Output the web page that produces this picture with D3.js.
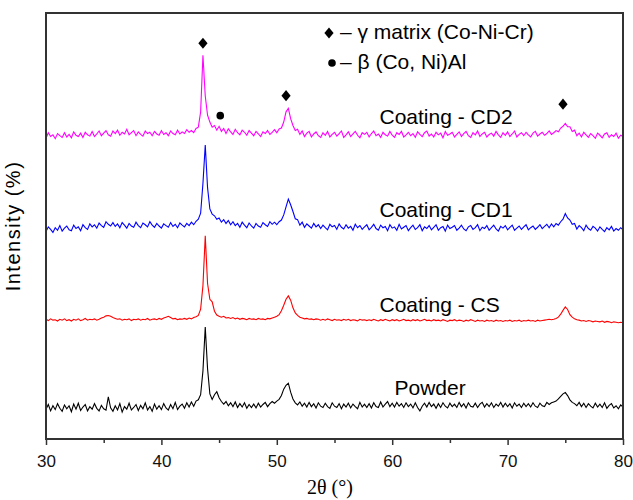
<!DOCTYPE html>
<html>
<head>
<meta charset="utf-8">
<script src="https://cdn.jsdelivr.net/npm/d3@7"></script>
<style>
  body { margin: 0; background: #fff; }
  text { font-family: "Liberation Sans", Arial, sans-serif; }
</style>
</head>
<body>
<div id="chart"></div>
<script>
// 2theta sampling grid of the scans (degrees, 0.2 step)
var twoTheta = d3.range(0, 251).map(function (i) { return +(30 + i * 0.2).toFixed(1); });
var xTicks = [30, 40, 50, 60, 70, 80];
var xMinorTicks = [35, 45, 55, 65, 75];

// intensities, already stacked (Intensity %, 0-100 scale)
var powder = [
  7.0, 8.1, 6.6, 7.8, 6.9, 8.3, 7.2, 6.5, 8.0, 7.1,
  7.8, 6.4, 8.2, 7.0, 8.4, 6.7, 7.5, 8.1, 6.6, 7.6,
  7.0, 8.3, 7.2, 6.6, 7.9, 7.1, 6.8, 9.9, 7.3, 6.5,
  7.8, 6.8, 8.3, 6.3, 7.6, 7.0, 8.4, 6.8, 7.4, 8.1,
  6.7, 7.9, 7.1, 8.5, 6.8, 7.6, 6.5, 8.2, 7.0, 7.8,
  6.9, 8.3, 7.3, 6.8, 8.1, 7.1, 8.6, 6.9, 7.7, 8.2,
  7.2, 8.5, 7.5, 8.7, 7.7, 8.9, 9.2, 10.4, 16.0, 26.3,
  16.5, 10.6, 9.3, 10.4, 11.1, 9.7, 8.8, 8.2, 8.8, 7.8,
  8.5, 7.6, 8.7, 7.4, 8.3, 7.5, 8.5, 7.2, 8.1, 7.4,
  8.2, 7.3, 8.4, 7.5, 8.1, 8.6, 7.6, 8.3, 8.8, 8.4,
  8.9, 9.3, 10.2, 11.7, 12.6, 13.1, 11.0, 9.4, 8.5, 8.0,
  8.7, 7.7, 8.4, 7.5, 8.6, 7.6, 8.3, 7.3, 8.5, 7.7,
  7.4, 8.4, 7.6, 7.2, 8.5, 7.7, 7.4, 8.3, 7.1, 8.2,
  7.5, 8.4, 7.3, 8.2, 7.6, 7.1, 8.6, 7.5, 8.2, 7.4,
  8.3, 7.3, 8.5, 7.6, 7.4, 8.7, 7.5, 8.2, 8.8, 7.6,
  8.4, 7.5, 8.6, 7.7, 8.3, 7.4, 8.5, 7.6, 8.2, 7.3,
  8.5, 7.4, 6.6, 7.7, 8.4, 7.5, 8.6, 7.6, 8.2, 7.2,
  8.3, 7.4, 8.5, 7.7, 7.3, 8.4, 7.6, 8.2, 7.4, 8.6,
  7.6, 8.3, 7.3, 8.5, 7.7, 7.5, 8.4, 7.4, 8.2, 8.6,
  7.5, 8.3, 7.6, 8.5, 7.4, 8.2, 7.7, 8.6, 7.5, 8.4,
  7.6, 8.3, 7.3, 8.5, 7.7, 8.2, 7.4, 8.4, 7.6, 8.3,
  7.5, 8.5, 7.7, 7.4, 8.4, 7.8, 7.6, 8.6, 8.1, 8.5,
  8.7, 8.9, 9.4, 10.0, 10.6, 10.9, 10.2, 9.2, 8.6, 8.3,
  7.8, 8.6, 7.6, 8.4, 7.4, 8.3, 7.7, 7.3, 8.4, 7.5,
  8.2, 7.4, 8.5, 7.2, 7.9, 8.3, 7.3, 7.8, 7.1, 8.0,
  7.5
];

var coatingCS = [
  28.1, 27.8, 28.2, 27.9, 28.0, 27.7, 28.1, 27.9, 28.2, 27.8,
  28.0, 27.7, 28.1, 27.9, 28.2, 27.8, 28.0, 28.3, 27.9, 28.1,
  28.0, 28.2, 27.9, 28.1, 28.4, 28.6, 28.9, 29.0, 28.8, 28.5,
  28.3, 28.1, 28.2, 27.9, 28.1, 28.0, 28.2, 27.8, 28.1, 28.0,
  28.2, 27.9, 28.1, 28.0, 28.3, 27.9, 28.1, 28.2, 28.0, 28.3,
  28.1, 28.4, 28.6, 28.8, 28.5, 28.2, 28.3, 28.0, 28.2, 28.1,
  28.3, 28.1, 28.4, 28.2, 28.5, 28.7, 29.0, 30.5, 36.0, 47.7,
  36.5, 32.8, 32.2, 30.0, 29.1, 28.8, 28.6, 28.8, 28.4, 28.5,
  28.3, 28.5, 28.2, 28.4, 28.1, 28.3, 28.2, 28.0, 28.3, 28.1,
  28.2, 28.0, 28.3, 28.1, 28.2, 28.0, 28.3, 28.2, 28.4, 28.6,
  28.8, 29.2, 30.1, 31.4, 32.8, 33.6, 32.6, 30.8, 29.6, 29.0,
  28.6, 28.4, 28.2, 28.3, 28.1, 28.2, 28.0, 28.2, 28.1, 27.9,
  28.1, 27.9, 28.2, 28.0, 27.8, 28.1, 27.9, 28.0, 27.8, 28.1,
  27.9, 28.1, 27.8, 28.0, 27.9, 27.7, 28.1, 27.9, 28.0, 27.8,
  28.0, 27.8, 28.1, 27.9, 27.7, 28.0, 27.8, 28.1, 27.9, 27.7,
  28.0, 27.8, 28.0, 27.7, 27.9, 28.1, 27.8, 27.9, 27.7, 28.0,
  27.8, 28.0, 27.7, 27.9, 28.1, 27.8, 27.9, 27.7, 28.0, 27.8,
  27.9, 27.7, 28.0, 27.8, 27.6, 27.9, 27.8, 28.0, 27.7, 27.9,
  27.8, 27.6, 27.9, 27.7, 28.0, 27.8, 27.6, 27.9, 27.7, 27.8,
  27.6, 27.9, 27.7, 27.8, 27.6, 27.9, 27.7, 27.8, 27.6, 27.8,
  27.7, 27.9, 27.6, 27.8, 27.7, 27.9, 27.6, 27.8, 27.7, 27.9,
  27.7, 27.8, 27.6, 27.9, 27.7, 27.8, 27.9, 28.0, 28.1, 28.0,
  28.1, 28.3, 28.6, 29.3, 30.2, 31.0, 30.4, 29.2, 28.6, 28.2,
  28.0, 27.9, 27.7, 27.8, 27.6, 27.8, 27.7, 27.5, 27.7, 27.6,
  27.5, 27.7, 27.4, 27.6, 27.5, 27.3, 27.5, 27.4, 27.3, 27.4,
  27.3
];

var coatingCD1 = [
  48.7, 49.8, 49.2, 48.5, 49.6, 49.0, 50.1, 48.8, 49.5, 50.0,
  49.1, 48.9, 50.2, 49.4, 49.8, 48.9, 50.3, 49.6, 49.2, 50.5,
  49.8, 50.3, 49.5, 50.7, 50.1, 49.7, 51.0, 50.4, 50.0, 50.8,
  49.9, 50.5, 49.6, 50.8, 50.2, 49.5, 50.6, 50.0, 49.7, 50.9,
  50.1, 49.6, 50.7, 50.3, 49.8, 51.0, 50.2, 49.7, 50.6, 50.0,
  49.5, 50.5, 50.1, 49.7, 50.8, 49.9, 50.4, 49.6, 50.7, 50.2,
  49.8, 50.6, 50.1, 50.9, 50.3, 51.1, 51.6, 53.0, 60.0, 69.0,
  59.0, 54.0, 52.8, 52.4, 51.6, 51.9, 50.9, 51.5, 50.6, 51.3,
  50.3, 51.0, 50.1, 50.6, 49.7, 50.9, 50.2, 49.6, 50.7, 50.0,
  49.5, 50.6, 50.0, 49.7, 50.8, 50.3, 49.9, 51.0, 50.4, 50.9,
  50.3, 51.0, 51.4, 52.6, 54.5, 56.3, 55.0, 53.4, 51.7, 51.5,
  50.2, 50.9, 49.7, 50.5, 50.0, 49.5, 50.6, 49.8, 50.3, 49.4,
  50.2, 49.6, 49.1, 50.4, 49.8, 50.1, 49.2, 50.5, 49.7, 49.3,
  50.3, 49.5, 49.9, 49.0, 50.4, 49.6, 50.1, 49.2, 49.8, 50.3,
  49.1, 49.7, 50.4, 49.4, 49.0, 50.2, 49.6, 49.9, 48.9, 50.3,
  49.5, 49.8, 49.0, 50.4, 49.3, 49.7, 50.1, 48.9, 49.6, 50.2,
  49.2, 49.6, 50.3, 48.9, 49.8, 49.4, 50.1, 49.1, 49.7, 50.3,
  49.0, 49.6, 49.9, 48.8, 50.2, 49.4, 49.7, 50.1, 49.0, 49.5,
  50.2, 49.3, 48.9, 49.8, 50.1, 49.2, 49.6, 50.3, 48.9, 49.7,
  49.4, 50.1, 49.0, 49.6, 50.2, 49.3, 48.8, 49.9, 49.5, 50.1,
  49.1, 49.7, 50.2, 49.0, 49.5, 50.0, 49.2, 49.8, 50.3, 49.1,
  49.6, 50.0, 49.2, 49.7, 50.3, 49.4, 49.9, 50.4, 49.6, 50.5,
  49.8, 50.6, 50.2, 51.0, 51.6, 52.9, 51.9, 51.4, 50.4, 50.6,
  49.3, 50.1, 49.6, 48.9, 50.2, 49.4, 49.0, 49.9, 49.5, 48.8,
  49.8, 49.2, 48.7, 49.6, 49.1, 49.9, 48.8, 49.4, 49.0, 49.6,
  49.1
];

var coatingCD2 = [
  70.6, 71.9, 71.0, 71.4, 70.5, 71.7, 71.2, 70.8, 71.9, 70.9,
  71.5, 70.7, 72.1, 71.3, 71.0, 71.8, 70.8, 72.0, 71.4, 71.1,
  72.2, 71.0, 71.6, 72.3, 71.2, 71.8, 72.4, 71.4, 71.1, 72.3,
  71.7, 72.5, 71.3, 72.0, 71.6, 72.7, 71.4, 71.9, 72.4, 71.2,
  72.1, 71.5, 71.1, 72.3, 71.7, 72.0, 71.2, 72.2, 71.6, 71.3,
  72.4, 71.5, 71.9, 71.2, 72.3, 71.7, 71.4, 72.5, 71.6, 72.1,
  71.7, 72.6, 72.0, 72.4, 71.9, 72.9, 73.2, 76.8, 90.1, 80.5,
  76.0, 74.4, 73.2, 73.6, 72.5, 73.4, 72.2, 72.9, 71.7, 72.8,
  72.1, 71.5, 72.7, 71.9, 71.4, 72.5, 72.0, 71.3, 72.4, 71.8,
  71.2, 72.2, 71.6, 71.0, 72.1, 71.7, 72.4, 71.5, 72.0, 72.6,
  71.9, 72.8, 73.0, 74.4, 76.8, 77.6, 75.2, 73.6, 72.4, 72.7,
  71.5, 72.3, 71.0, 71.8, 72.2, 70.9, 71.6, 72.1, 71.2, 70.8,
  71.9, 71.3, 72.2, 70.9, 71.5, 72.0, 71.1, 71.7, 72.3, 70.8,
  71.4, 72.1, 71.0, 71.6, 72.2, 71.3, 70.7, 71.9, 71.5, 72.0,
  70.9, 71.7, 72.3, 71.2, 71.6, 70.8, 72.0, 71.4, 71.1, 72.2,
  71.3, 70.8, 71.9, 71.5, 72.2, 70.9, 71.4, 72.0, 71.2, 71.7,
  70.8, 72.1, 71.5, 71.0, 71.9, 72.3, 71.1, 71.6, 70.9, 72.0,
  71.4, 71.8, 70.7, 72.2, 71.3, 71.6, 72.0, 70.9, 71.5, 72.1,
  71.0, 71.7, 72.2, 71.2, 70.8, 71.9, 71.4, 72.3, 71.0, 71.6,
  72.0, 70.9, 71.5, 71.8, 71.1, 72.2, 71.4, 70.8, 71.9, 71.3,
  72.1, 71.0, 71.6, 72.3, 70.9, 71.5, 71.9, 71.2, 72.0, 71.4,
  70.9, 71.8, 72.2, 71.1, 71.6, 72.0, 71.3, 71.7, 72.3, 71.5,
  71.9, 72.4, 72.1, 73.0, 73.4, 74.1, 73.3, 73.3, 72.2, 72.5,
  71.2, 71.8, 70.9, 72.0, 71.4, 70.8, 71.7, 71.2, 70.6, 71.8,
  71.3, 70.7, 71.6, 71.9, 70.8, 71.4, 71.0, 71.8, 70.6, 71.3,
  71.0
];

var seriesNames = ["Powder", "Coating - CS", "Coating - CD1", "Coating - CD2"];
var seriesColors = ["#000000", "#ff0000", "#0000ff", "#ff00ff"];
// label anchor per trace: [2theta, intensity]
var labelAt = [[60.2, 12.0], [58.9, 31.5], [58.9, 53.8], [58.9, 75.6]];

// phase markers on the CD2 trace
var gammaPeaks = [[43.6, 92.9], [50.8, 80.6], [74.8, 78.6]];
var betaPeaks = [[45.1, 75.9]];

var margin = {top: 13, right: 10, bottom: 61, left: 46},
    width = 633 - margin.left - margin.right,
    height = 500 - margin.top - margin.bottom;

var svg = d3.select("#chart")
            .append("svg")
            .attr("width", width + margin.left + margin.right)
            .attr("height", height + margin.top + margin.bottom)
            .append("g")
            .attr("transform", `translate(${margin.left},${margin.top})`);

var xAxis = d3.scaleLinear().domain([30, 80]).range([0, width]);
var yAxis = d3.scaleLinear().domain([0, 100]).range([height, 0]);

// traces
var line = d3.line()
             .x(function (d, i) { return xAxis(twoTheta[i]); })
             .y(function (d) { return yAxis(d); });

[powder, coatingCS, coatingCD1, coatingCD2].forEach(function (s, k) {
  svg.append("path")
     .datum(s)
     .attr("fill", "none")
     .attr("stroke", seriesColors[k])
     .attr("stroke-width", 1.1)
     .attr("d", line);
  svg.append("text")
     .attr("x", xAxis(labelAt[k][0]))
     .attr("y", yAxis(labelAt[k][1]))
     .attr("dy", "0.35em")
     .style("font-size", "21px")
     .text(seriesNames[k]);
});

// axes
var gx = svg.append("g")
            .attr("transform", `translate(0, ${height})`)
            .call(d3.axisBottom(xAxis).tickValues(xTicks).tickSize(6).tickPadding(10));
gx.select(".domain").remove();
gx.selectAll("text").style("font-size", "17px").attr("fill", "#111");
gx.selectAll("line").attr("stroke", "#333").attr("stroke-width", 1.5);

var gxm = svg.append("g")
             .attr("transform", `translate(0, ${height})`)
             .call(d3.axisBottom(xAxis).tickValues(xMinorTicks).tickSize(4).tickFormat(""));
gxm.select(".domain").remove();
gxm.selectAll("line").attr("stroke", "#333").attr("stroke-width", 1.5);

// frame
svg.append("rect")
   .attr("width", width)
   .attr("height", height)
   .attr("fill", "none")
   .attr("stroke", "#333")
   .attr("stroke-width", 2);

// phase markers
var diamond = d3.symbol().type(d3.symbolDiamond2).size(60);
svg.selectAll(".gamma")
   .data(gammaPeaks)
   .enter().append("path")
   .attr("d", diamond)
   .attr("transform", function (d) { return `translate(${xAxis(d[0])},${yAxis(d[1])}) scale(0.95,1.15)`; })
   .attr("fill", "#000");
svg.selectAll(".beta")
   .data(betaPeaks)
   .enter().append("circle")
   .attr("cx", function (d) { return xAxis(d[0]); })
   .attr("cy", function (d) { return yAxis(d[1]); })
   .attr("r", 3.8)
   .attr("fill", "#000");

// legend
var legend = svg.append("g").attr("transform", "translate(283, 0)");
legend.append("path")
      .attr("d", diamond)
      .attr("transform", "translate(0,20) scale(0.95,1.15)")
      .attr("fill", "#000");
legend.append("text")
      .attr("x", 11).attr("y", 19).attr("dy", "0.35em")
      .style("font-size", "21px")
      .text("\u2013 \u03b3 matrix (Co-Ni-Cr)");
legend.append("circle")
      .attr("cx", 3).attr("cy", 50).attr("r", 3.8)
      .attr("fill", "#000");
legend.append("text")
      .attr("x", 11).attr("y", 49).attr("dy", "0.35em")
      .style("font-size", "21px")
      .text("\u2013 \u03b2 (Co, Ni)Al");

// axis titles
svg.append("text")
   .attr("transform", `translate(${-26},${height / 2}) rotate(-90)`)
   .attr("text-anchor", "middle")
   .style("font-size", "20px")
   .style("letter-spacing", "1.5px")
   .text("Intensity (%)");

svg.append("text")
   .attr("x", xAxis(54.6))
   .attr("y", height + 55)
   .attr("text-anchor", "middle")
   .style("font-family", "'Liberation Serif', 'Times New Roman', serif")
   .style("font-size", "20px")
   .text("2\u03b8 (\u00b0)");
</script>
</body>
</html>
